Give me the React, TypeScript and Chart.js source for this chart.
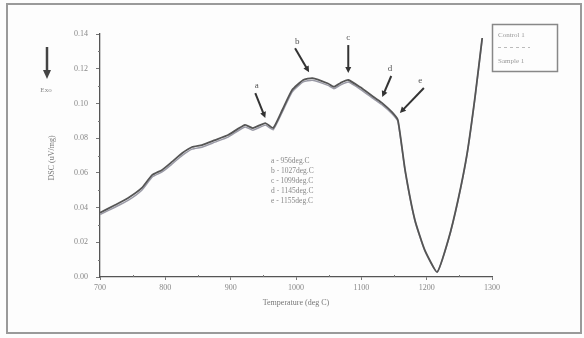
import React, { useEffect, useRef } from "react";
import { Chart, registerables } from "chart.js";

Chart.register(...registerables);

const temps = [700, 723, 743, 764, 780, 795, 810, 826, 841, 856, 876, 896, 922, 934, 953, 965, 979, 994, 1011, 1025, 1049, 1058, 1068, 1080, 1098, 1121, 1132, 1147, 1156, 1167, 1182, 1197, 1216, 1233, 1248, 1262, 1274, 1285];
const control1 = [0.037, 0.0415, 0.0455, 0.0513, 0.0588, 0.0617, 0.0663, 0.0714, 0.0749, 0.076, 0.0789, 0.0818, 0.0876, 0.0858, 0.0887, 0.0858, 0.0962, 0.1077, 0.1135, 0.1146, 0.1115, 0.1096, 0.1118, 0.1135, 0.1094, 0.1031, 0.1002, 0.095, 0.0904, 0.0616, 0.0328, 0.0156, 0.0029, 0.0213, 0.0444, 0.0714, 0.1037, 0.1377];
const sample1 = [0.036, 0.0402, 0.0441, 0.0500, 0.0576, 0.0605, 0.0650, 0.0701, 0.0737, 0.0748, 0.0777, 0.0806, 0.0864, 0.0846, 0.0875, 0.0848, 0.0950, 0.1066, 0.1124, 0.1134, 0.1104, 0.1085, 0.1106, 0.1123, 0.1083, 0.1020, 0.0992, 0.0941, 0.0896, 0.0610, 0.0324, 0.0153, 0.0027, 0.0210, 0.0440, 0.0710, 0.1032, 0.1372];
const seriesNames = ["Control 1", "Sample 1"];
const peakLabels = ["a", "b", "c", "d", "e"];
const peakTemps = [953, 1020, 1080, 1132, 1159];
const peakValues = [0.0916, 0.118, 0.1175, 0.1037, 0.0945];
const peakNotes = ["a - 956deg.C", "b - 1027deg.C", "c - 1099deg.C", "d - 1145deg.C", "e - 1155deg.C"];
const xTitle = "Temperature (deg C)";
const yTitle = "DSC (uV/mg)";
const exoLabel = "Exo";

const arrowVec = [[-10, -25], [-14, -24], [0, -28], [9, -21], [24, -25]];

const decorPlugin = {
  id: "decor",
  beforeDraw(chart: any) {
    const ctx = chart.ctx;
    ctx.save();
    ctx.fillStyle = "#fdfdfd";
    ctx.fillRect(0, 0, chart.width, chart.height);
    ctx.strokeStyle = "#9a9a9a";
    ctx.lineWidth = 2;
    ctx.strokeRect(7, 4, 574, 329);
    ctx.restore();
  },
  afterDraw(chart: any) {
    const ctx = chart.ctx;
    const xs = chart.scales.x;
    const ys = chart.scales.y;
    const area = chart.chartArea;
    ctx.save();
    ctx.strokeStyle = "#777";
    ctx.lineWidth = 1;
    for (let v = 0.01; v < 0.14; v += 0.02) {
      const py = Math.round(ys.getPixelForValue(v)) + 0.5;
      ctx.beginPath();
      ctx.moveTo(area.left - 2, py);
      ctx.lineTo(area.left, py);
      ctx.stroke();
    }
    for (let t = 750; t < 1300; t += 100) {
      const px = Math.round(xs.getPixelForValue(t)) + 0.5;
      ctx.beginPath();
      ctx.moveTo(px, area.bottom);
      ctx.lineTo(px, area.bottom - 2);
      ctx.stroke();
    }
    ctx.fillStyle = "#777";
    ctx.font = "8px 'Liberation Serif', serif";
    ctx.textAlign = "center";
    ctx.textBaseline = "middle";
    ctx.fillText(xTitle, (area.left + area.right) / 2, 303);
    ctx.save();
    ctx.translate(52, 158);
    ctx.rotate(-Math.PI / 2);
    ctx.fillText(yTitle, 0, 0);
    ctx.restore();
    ctx.strokeStyle = "#444";
    ctx.fillStyle = "#444";
    ctx.lineWidth = 2.5;
    ctx.beginPath();
    ctx.moveTo(47, 47);
    ctx.lineTo(47, 72);
    ctx.stroke();
    ctx.beginPath();
    ctx.moveTo(43, 70);
    ctx.lineTo(51, 70);
    ctx.lineTo(47, 79);
    ctx.closePath();
    ctx.fill();
    ctx.fillStyle = "#888";
    ctx.font = "7px 'Liberation Serif', serif";
    ctx.fillText(exoLabel, 46, 90);
    peakTemps.forEach((t, i) => {
      const tx = xs.getPixelForValue(t);
      const ty = ys.getPixelForValue(peakValues[i]);
      const [dx, dy] = arrowVec[i];
      const sx = tx + dx;
      const sy = ty + dy;
      const ang = Math.atan2(ty - sy, tx - sx);
      ctx.strokeStyle = "#333";
      ctx.fillStyle = "#333";
      ctx.lineWidth = 2;
      ctx.beginPath();
      ctx.moveTo(sx, sy);
      ctx.lineTo(tx - 4 * Math.cos(ang), ty - 4 * Math.sin(ang));
      ctx.stroke();
      ctx.beginPath();
      ctx.moveTo(tx, ty);
      ctx.lineTo(tx - 6 * Math.cos(ang) + 3 * Math.sin(ang), ty - 6 * Math.sin(ang) - 3 * Math.cos(ang));
      ctx.lineTo(tx - 6 * Math.cos(ang) - 3 * Math.sin(ang), ty - 6 * Math.sin(ang) + 3 * Math.cos(ang));
      ctx.closePath();
      ctx.fill();
      ctx.fillStyle = "#555";
      ctx.font = "9px 'Liberation Serif', serif";
      ctx.textAlign = "center";
      ctx.fillText(peakLabels[i], sx - dx * 0.15, sy - 7);
    });
    ctx.fillStyle = "#888";
    ctx.font = "7.5px 'Liberation Serif', serif";
    ctx.textAlign = "left";
    peakNotes.forEach((n, i) => {
      ctx.fillText(n, 271, 161 + i * 10);
    });
    ctx.strokeStyle = "#888";
    ctx.lineWidth = 1.5;
    ctx.strokeRect(492.5, 24.5, 65, 47);
    ctx.fillStyle = "#999";
    ctx.font = "7px 'Liberation Serif', serif";
    ctx.fillText(seriesNames[0], 498, 35);
    ctx.fillText(seriesNames[1], 498, 61);
    ctx.strokeStyle = "#bbb";
    ctx.lineWidth = 1;
    ctx.setLineDash([3, 3]);
    ctx.beginPath();
    ctx.moveTo(498, 47.5);
    ctx.lineTo(530, 47.5);
    ctx.stroke();
    ctx.setLineDash([]);
    ctx.restore();
  },
};

export default function App() {
  const ref = useRef<HTMLCanvasElement | null>(null);
  useEffect(() => {
    if (!ref.current) return;
    const chart = new Chart(ref.current, {
      type: "line",
      data: {
        datasets: [
          {
            label: seriesNames[0],
            data: temps.map((t, i) => ({ x: t, y: control1[i] })),
            borderColor: "#555",
            borderWidth: 1.8,
            pointRadius: 0,
            tension: 0.15,
          },
          {
            label: seriesNames[1],
            data: temps.map((t, i) => ({ x: t, y: sample1[i] })),
            borderColor: "#9a9aa6",
            borderWidth: 1.5,
            pointRadius: 0,
            tension: 0.15,
          },
        ],
      },
      plugins: [decorPlugin],
      options: {
        animation: false,
        responsive: false,
        layout: { padding: { left: 0, right: 92, top: 34, bottom: 0 } },
        plugins: { legend: { display: false }, tooltip: { enabled: false } },
        scales: {
          x: {
            type: "linear",
            min: 700,
            max: 1300,
            ticks: {
              stepSize: 100,
              color: "#888",
              font: { family: "'Liberation Serif', serif", size: 8 },
              padding: 3,
              maxRotation: 0,
              callback: (v: any) => String(v),
            },
            grid: { drawOnChartArea: false, tickLength: 3, color: "#777" },
            border: { color: "#555", width: 1.3 },
            afterFit: (s: any) => { s.height = 61; },
          },
          y: {
            min: 0,
            max: 0.14,
            ticks: {
              stepSize: 0.02,
              color: "#888",
              font: { family: "'Liberation Serif', serif", size: 8 },
              padding: 8,
              callback: (v: any) => Number(v).toFixed(2),
            },
            grid: { drawOnChartArea: false, tickLength: 4, color: "#777" },
            border: { color: "#555", width: 1.3 },
            afterFit: (s: any) => { s.width = 100; },
          },
        },
      },
    });
    return () => chart.destroy();
  }, []);
  return (
    <div style={{ position: "absolute", left: 0, top: 0, width: 584, height: 338 }}>
      <canvas ref={ref} width={584} height={338} />
    </div>
  );
}
